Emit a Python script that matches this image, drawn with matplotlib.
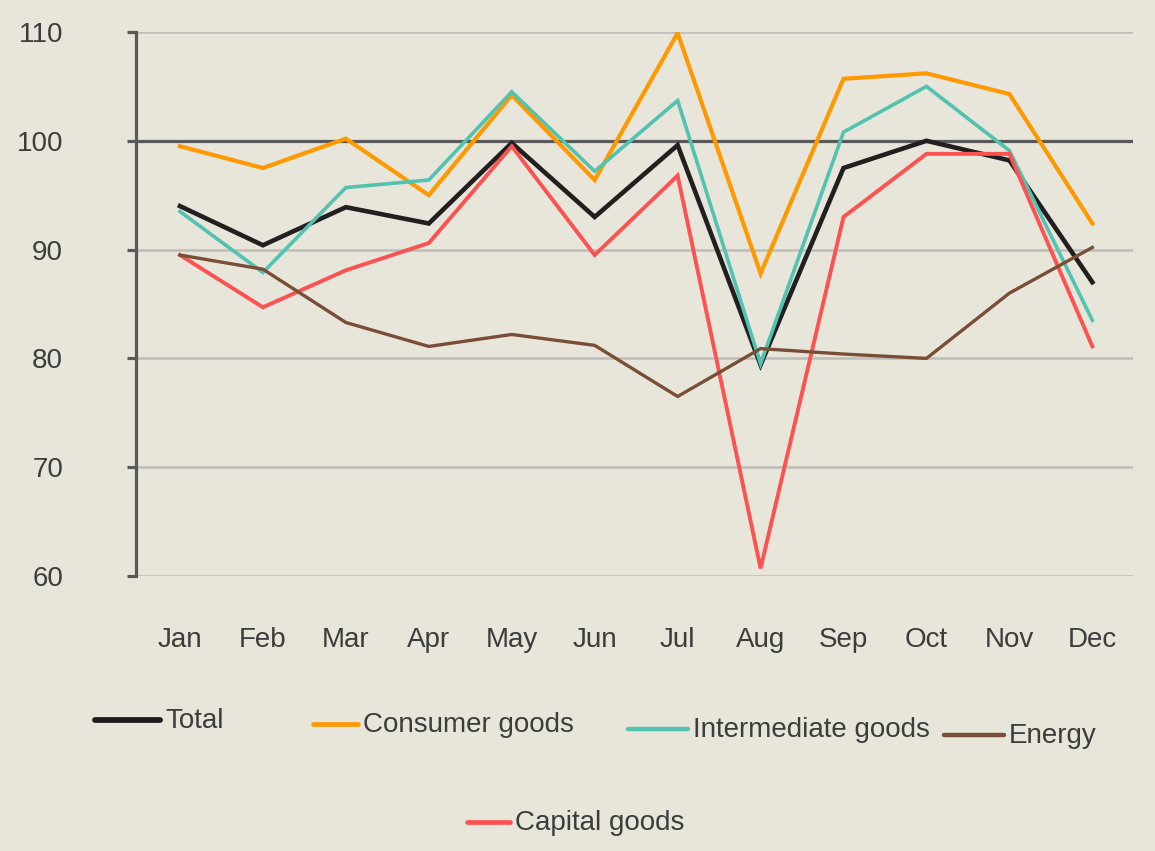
import matplotlib
matplotlib.use("Agg")
import matplotlib.pyplot as plt
from matplotlib.lines import Line2D

plt.rcParams['font.family'] = ['Liberation Sans', 'DejaVu Sans']

months = ["Jan", "Feb", "Mar", "Apr", "May", "Jun", "Jul", "Aug", "Sep", "Oct", "Nov", "Dec"]
total = [94.0, 90.4, 93.9, 92.4, 99.8, 93.0, 99.6, 79.4, 97.5, 100.0, 98.2, 87.0]
consumer = [99.5, 97.5, 100.2, 95.0, 104.2, 96.4, 109.9, 87.8, 105.7, 106.2, 104.3, 92.4]
intermediate = [93.5, 87.9, 95.7, 96.4, 104.5, 97.2, 103.7, 79.5, 100.8, 105.0, 99.1, 83.5]
energy = [89.5, 88.2, 83.3, 81.1, 82.2, 81.2, 76.5, 80.9, 80.4, 80.0, 86.0, 90.2]
capital = [89.5, 84.7, 88.1, 90.6, 99.5, 89.5, 96.8, 60.7, 93.0, 98.8, 98.8, 81.1]
yticks = [60, 70, 80, 90, 100, 110]

BG = "#e8e5da"
TXT = "#3d3d3d"
W, H = 1155, 851

fig = plt.figure(figsize=(W / 100, H / 100), dpi=100, facecolor=BG)
ax = fig.add_axes([136 / W, 1 - 576 / H, (1133 - 136) / W, (576 - 32) / H])
ax.set_facecolor(BG)

x = list(range(len(months)))
series = [
    ("Total", total, "#231f20", 3.3),
    ("Consumer goods", consumer, "#ff9900", 3.0),
    ("Intermediate goods", intermediate, "#52c2b1", 2.6),
    ("Capital goods", capital, "#fc5252", 2.8),
    ("Energy", energy, "#7a4e36", 2.4),
]

for yv in yticks:
    if yv == 100:
        ax.axhline(yv, color="#595959", lw=2.3, zorder=1)
    else:
        ax.axhline(yv, color="#bfbdb9", lw=1.8, zorder=1)

for name, vals, col, lw in series:
    ax.plot(x, vals, color=col, lw=lw, solid_joinstyle="miter", zorder=3)

ax.set_xlim(-0.53, 11.49)
ax.set_ylim(60, 110)
ax.set_xticks(x)
ax.set_xticklabels(months, fontsize=20, color=TXT)
ax.set_yticks(yticks)
ax.set_yticklabels([str(v) for v in yticks], fontsize=20, color=TXT)
ax.tick_params(axis="x", length=0, pad=37)
ax.tick_params(axis="y", direction="out", length=6.5, width=2.3, color="#595959", pad=46)
for s in ["top", "right", "bottom"]:
    ax.spines[s].set_visible(False)
ax.spines["left"].set_color("#595959")
ax.spines["left"].set_linewidth(2.3)

# Legend (manually placed, irregular layout)
legend_items = [
    ("Total", "#231f20", 95, 160, 720, 4.2),
    ("Consumer goods", "#ff9900", 313, 358, 724, 3.4),
    ("Intermediate goods", "#52c2b1", 628, 688, 729, 3.2),
    ("Energy", "#7a4e36", 944, 1004, 735, 3.2),
    ("Capital goods", "#fc5252", 467, 510, 822, 3.4),
]
for label, col, x0, x1, yy, lw in legend_items:
    fig.add_artist(Line2D([x0 / W, x1 / W], [1 - yy / H, 1 - yy / H],
                          transform=fig.transFigure, color=col, lw=lw,
                          solid_capstyle="round"))
    fig.text((x1 + 5) / W, 1 - (yy + 1) / H, label, fontsize=20, color=TXT,
             ha="left", va="center")

fig.savefig("out.png", dpi=100, facecolor=BG)
